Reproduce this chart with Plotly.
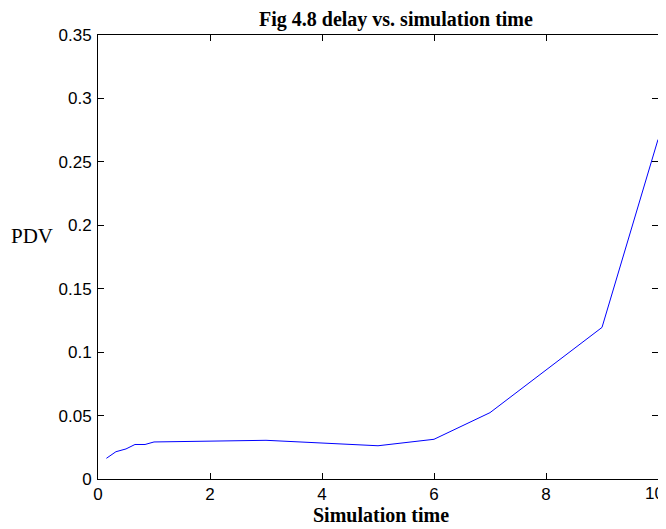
import plotly.graph_objects as go

sim_time = [0.15, 0.32, 0.5, 0.66, 0.84, 1.0, 3.0, 5.0, 6.0, 7.0, 9.0, 10.0]
pdv = [0.0163, 0.0215, 0.0237, 0.0272, 0.0272, 0.0292, 0.0305, 0.0262, 0.0313, 0.0523, 0.1195, 0.2676]

x_ticks = [0, 2, 4, 6, 8, 10]
x_tick_labels = ["0", "2", "4", "6", "8", "10"]
y_ticks = [0, 0.05, 0.1, 0.15, 0.2, 0.25, 0.3, 0.35]
y_tick_labels = ["0", "0.05", "0.1", "0.15", "0.2", "0.25", "0.3", "0.35"]

title_text = "Fig 4.8 delay vs. simulation time"
x_label = "Simulation time"
y_label = "PDV"

fig = go.Figure()
fig.add_trace(go.Scatter(x=sim_time, y=pdv, mode="lines",
                         line=dict(color="#0000ff", width=1), showlegend=False))

tick_font = dict(family="Liberation Sans, Arial", size=17, color="black")
axis_common = dict(showline=True, linecolor="black", linewidth=1, mirror="ticks",
                   ticks="inside", ticklen=6, tickcolor="black", showgrid=False,
                   zeroline=False, tickfont=tick_font)

# last x tick label sits at the window edge; it is drawn as a right-aligned annotation
fig.update_xaxes(range=[0, 10], tickvals=x_ticks,
                 ticktext=x_tick_labels[:-1] + [""], **axis_common)
fig.update_yaxes(range=[0, 0.35], tickvals=y_ticks, ticktext=y_tick_labels,
                 ticklabelstandoff=2, **axis_common)

fig.update_layout(
    width=658, height=521,
    margin=dict(l=90, r=8, t=27, b=50),
    paper_bgcolor="white", plot_bgcolor="white",
    annotations=[
        dict(text=x_tick_labels[-1], xref="x", yref="paper", x=x_ticks[-1], y=-0.032,
             xanchor="right", yanchor="middle", xshift=7, borderpad=0, showarrow=False,
             font=tick_font),
        dict(text="<b>%s</b>" % title_text, xref="paper", yref="paper", x=0.533, y=1.036,
             xanchor="center", yanchor="middle", showarrow=False,
             font=dict(family="Liberation Serif, Times New Roman", size=20, color="black")),
        dict(text="<b>%s</b>" % x_label, xref="paper", yref="paper", x=0.505, y=-0.081,
             xanchor="center", yanchor="middle", showarrow=False,
             font=dict(family="Liberation Serif, Times New Roman", size=20, color="black")),
        dict(text=y_label, xref="paper", yref="paper", x=-0.118, y=0.548,
             xanchor="center", yanchor="middle", showarrow=False,
             font=dict(family="Liberation Serif, Times New Roman", size=21, color="black")),
    ],
)

fig.write_html("out.html")
